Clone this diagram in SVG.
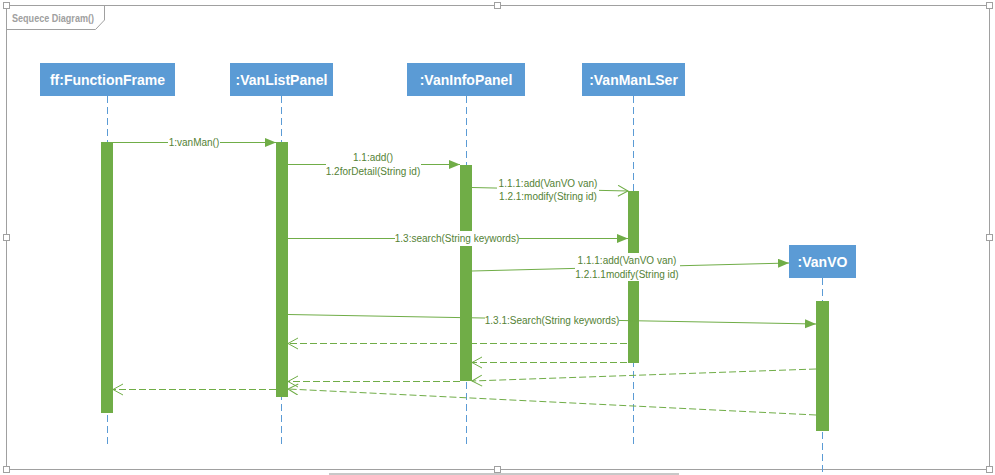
<svg xmlns="http://www.w3.org/2000/svg" width="995" height="475" viewBox="0 0 995 475">
<style>
.frame{fill:none;stroke:#a0a0a0;stroke-width:1}
.handle{fill:#fff;stroke:#a0a0a0;stroke-width:1}
.title{font-family:"Liberation Sans",Arial,sans-serif;font-size:10px;fill:#a0a0a0;font-weight:bold}
.box{fill:#5B9BD5}
.name{font-family:"Liberation Sans",Arial,sans-serif;font-size:14px;font-weight:bold;fill:#fff;text-anchor:middle}
.life{stroke:#5B9BD5;stroke-width:1;stroke-dasharray:7,4;fill:none}
.bar{fill:#70AD47}
.msg{stroke:#70AD47;stroke-width:1;fill:none}
.ret{stroke:#70AD47;stroke-width:1;fill:none;stroke-dasharray:7,3}
.lbl{font-family:"Liberation Sans",Arial,sans-serif;font-size:10px;fill:#548235;text-anchor:middle}
.lbg{fill:#fff}
</style>
<defs>
<marker id="filled" markerUnits="userSpaceOnUse" markerWidth="12" markerHeight="10" refX="11" refY="4.5" orient="auto">
<path d="M0,0 L11,4.5 L0,9 z" fill="#70AD47"/>
</marker>
<marker id="open" markerUnits="userSpaceOnUse" markerWidth="14" markerHeight="14" refX="11" refY="6" orient="auto">
<path d="M1,0.5 L11,6 L1,11.5" fill="none" stroke="#70AD47" stroke-width="1"/>
</marker>
</defs>
<rect width="995" height="475" fill="#fff"/>
<g id="frame">
<rect class="frame" x="6.5" y="5.5" width="983" height="464"/>
<path class="frame" d="M6.5,29.5 L95.5,29.5 L104.5,20 L104.5,5.5"/>
<text class="title" x="12" y="21.5" textLength="82" lengthAdjust="spacingAndGlyphs">Sequece Diagram()</text>
<rect class="handle" x="3.5" y="2.5" width="6" height="6"/>
<rect class="handle" x="494.5" y="2.5" width="6" height="6"/>
<rect class="handle" x="986.5" y="2.5" width="6" height="6"/>
<rect class="handle" x="3.5" y="234.5" width="6" height="6"/>
<rect class="handle" x="986.5" y="234.5" width="6" height="6"/>
<rect class="handle" x="3.5" y="466.5" width="6" height="6"/>
<rect class="handle" x="494.5" y="466.5" width="6" height="6"/>
<rect class="handle" x="986.5" y="466.5" width="6" height="6"/>
<rect x="329" y="473" width="350" height="2" fill="#c8c8c8"/>
</g>
<g id="lifelines">
<line class="life" x1="107.5" y1="96" x2="107.5" y2="448"/>
<line class="life" x1="281.5" y1="96" x2="281.5" y2="448"/>
<line class="life" x1="466.5" y1="96" x2="466.5" y2="448"/>
<line class="life" x1="633.5" y1="96" x2="633.5" y2="448"/>
<line class="life" x1="822.5" y1="278" x2="822.5" y2="475"/>
</g>
<g id="activations">
<rect class="bar" x="101" y="142" width="12" height="271"/>
<rect class="bar" x="276" y="142" width="12" height="255"/>
<rect class="bar" x="460" y="165" width="12" height="216"/>
<rect class="bar" x="628" y="191" width="11" height="172"/>
<rect class="bar" x="816" y="301" width="13" height="130"/>
</g>
<g id="connectors">
<line class="msg" x1="113" y1="142.5" x2="276" y2="142.5" marker-end="url(#filled)"/>
<line class="msg" x1="288" y1="164.5" x2="460" y2="164.5" marker-end="url(#filled)"/>
<line class="msg" x1="472" y1="187.5" x2="628" y2="191" marker-end="url(#open)"/>
<line class="msg" x1="288" y1="238.5" x2="628" y2="238.5" marker-end="url(#filled)"/>
<line class="msg" x1="472" y1="271" x2="789" y2="263" marker-end="url(#filled)"/>
<line class="msg" x1="288" y1="314.5" x2="816" y2="324" marker-end="url(#filled)"/>
<line class="ret" x1="627" y1="343.5" x2="288" y2="343.5" marker-end="url(#open)"/>
<line class="ret" x1="627" y1="362.5" x2="472" y2="362.5" marker-end="url(#open)"/>
<line class="ret" x1="816" y1="369" x2="472" y2="381" marker-end="url(#open)"/>
<line class="ret" x1="460" y1="381.5" x2="288" y2="381.5" marker-end="url(#open)"/>
<line class="ret" x1="276" y1="389.5" x2="113" y2="389.5" marker-end="url(#open)"/>
<line class="ret" x1="816" y1="415" x2="288" y2="389" marker-end="url(#open)"/>
<rect class="lbg" x="168" y="136" width="52" height="13"/>
<text class="lbl" x="194" y="146">1:vanMan()</text>
<rect class="lbg" x="326" y="150" width="95" height="28"/>
<text class="lbl" x="373" y="160.5">1.1:add()</text>
<text class="lbl" x="373" y="174.5">1.2forDetail(String id)</text>
<rect class="lbg" x="497" y="176" width="102" height="27"/>
<text class="lbl" x="548" y="186.5">1.1.1:add(VanVO van)</text>
<text class="lbl" x="548" y="199.5">1.2.1:modify(String id)</text>
<rect class="lbg" x="395" y="231" width="124" height="15"/>
<text class="lbl" x="457" y="241.5">1.3:search(String keywords)</text>
<rect class="lbg" x="575" y="253" width="105" height="28"/>
<text class="lbl" x="627" y="263.5">1.1.1:add(VanVO van)</text>
<text class="lbl" x="627" y="278">1.2.1.1modify(String id)</text>
<rect class="lbg" x="485" y="313" width="134" height="14"/>
<text class="lbl" x="552" y="323.5">1.3.1:Search(String keywords)</text>
</g>
<g id="ff">
<rect class="box" x="40" y="63" width="135" height="33"/>
<text class="name" x="107.5" y="85">ff:FunctionFrame</text>
</g>
<g id="VanListPanel">
<rect class="box" x="230" y="63" width="103" height="33"/>
<text class="name" x="281.5" y="85">:VanListPanel</text>
</g>
<g id="VanInfoPanel">
<rect class="box" x="407" y="63" width="118" height="33"/>
<text class="name" x="466" y="85">:VanInfoPanel</text>
</g>
<g id="VanManLSer">
<rect class="box" x="582" y="63" width="103" height="33"/>
<text class="name" x="633.5" y="85">:VanManLSer</text>
</g>
<g id="VanVO">
<rect class="box" x="789" y="245" width="67" height="33"/>
<text class="name" x="822.5" y="267">:VanVO</text>
</g>
</svg>
